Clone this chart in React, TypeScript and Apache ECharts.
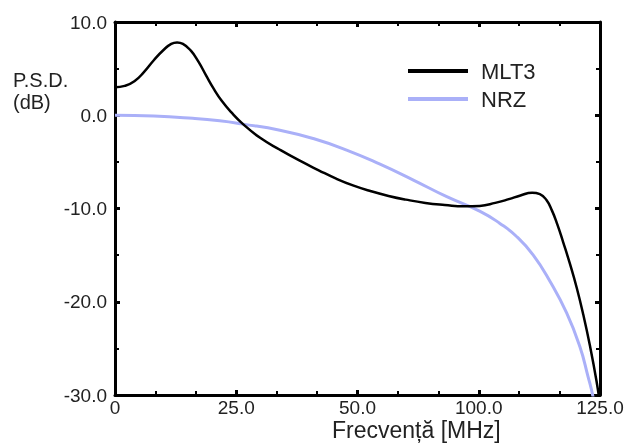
import React, { useEffect, useRef } from "react";
import * as echarts from "echarts";

const xTickLabels = ["0", "25.0", "50.0", "100.0", "125.0"];
const yTickLabels = ["-30.0", "-20.0", "-10.0", "0.0", "10.0"];

const mlt3X = [0, 2.5, 5, 7.5, 10, 12.5, 14.5, 16, 17.5, 19.5, 21.5, 23.5, 25.5, 27.5, 30, 33, 37.5, 42.5, 47.5, 52.5, 57, 61.5, 66, 70.5, 75, 80, 85, 90, 94, 98, 101.5, 104.5, 107.5, 109.5, 111.2, 112.6, 114, 115.5, 117.3, 119, 120.7, 122.4, 124.1, 125];
const mlt3Y = [3.0, 3.15, 3.65, 4.65, 5.9, 7.0, 7.65, 7.8, 7.65, 6.95, 5.75, 4.25, 2.8, 1.55, 0.3, -0.95, -2.45, -3.7, -4.85, -5.9, -6.8, -7.55, -8.15, -8.65, -9.05, -9.4, -9.62, -9.77, -9.72, -9.4, -9.0, -8.6, -8.3, -8.45, -9.1, -10.2, -11.7, -13.6, -16.0, -18.5, -21.4, -24.7, -28.5, -31];

const nrzX = [0, 10, 20, 27, 33.0, 42.5, 51.1, 59.7, 68.3, 76.9, 85.5, 94.1, 99.2, 103.5, 107.8, 112.1, 116.4, 119.8, 121.9, 123.2, 123.8];
const nrzY = [0, -0.08, -0.33, -0.6, -0.95, -1.6, -2.5, -3.73, -5.25, -6.95, -8.73, -10.3, -11.6, -13.0, -15.0, -17.8, -21.2, -24.8, -28.0, -30.2, -32];

const seriesNames = ["MLT3", "NRZ"];

export default function App() {
  const ref = useRef<HTMLDivElement>(null);
  useEffect(() => {
    if (!ref.current) return;
    const chart = echarts.init(ref.current, null, { renderer: "svg" });
    const axisLine = { show: true, onZero: false, lineStyle: { color: "#000", width: 3 } };
    const font = "Liberation Sans, Arial, sans-serif";
    const xBase = {
      type: "value",
      min: 0,
      max: 125,
      interval: 31.25,
      axisLine,
      axisTick: { show: true, inside: true, length: 5, lineStyle: { color: "#000", width: 3 } },
      minorTick: { show: true, splitNumber: 3, length: 4, lineStyle: { color: "#000", width: 2 } },
      splitLine: { show: false },
    };
    const yBase = {
      type: "value",
      min: -30,
      max: 10,
      interval: 10,
      axisLine,
      axisTick: { show: true, inside: true, length: 5, lineStyle: { color: "#000", width: 3 } },
      minorTick: { show: true, splitNumber: 2, length: 4, lineStyle: { color: "#000", width: 2 } },
      splitLine: { show: false },
    };
    chart.setOption({
      animation: false,
      grid: { left: 115, right: 32, top: 22, bottom: 53, containLabel: false },
      legend: {
        orient: "vertical",
        left: 408,
        top: 60,
        padding: 0,
        itemWidth: 60,
        itemHeight: 4,
        itemGap: 6,
        data: [
          { name: seriesNames[0], icon: "rect" },
          { name: seriesNames[1], icon: "rect" },
        ],
        textStyle: { fontSize: 22, color: "#222", fontFamily: font, padding: [0, 0, 0, 8] },
      },
      xAxis: [
        {
          ...xBase,
          position: "bottom",
          axisLabel: {
            show: true,
            margin: 3,
            fontSize: 19,
            color: "#222",
            fontFamily: font,
            formatter: (v: number) => xTickLabels[Math.round(v / 31.25)] ?? "",
          },
        },
        { ...xBase, position: "top", axisLabel: { show: false } },
      ],
      yAxis: [
        {
          ...yBase,
          position: "left",
          axisLabel: {
            show: true,
            margin: 8,
            fontSize: 19,
            color: "#222",
            fontFamily: font,
            formatter: (v: number) => yTickLabels[Math.round((v + 30) / 10)] ?? "",
          },
        },
        { ...yBase, position: "right", axisLabel: { show: false } },
      ],
      series: [
        {
          name: seriesNames[0],
          type: "line",
          data: mlt3X.map((x, i) => [x, mlt3Y[i]]),
          smooth: 0.5,
          symbol: "none",
          clip: true,
          z: 3,
          lineStyle: { color: "#000", width: 2.5 },
          itemStyle: { color: "#000" },
        },
        {
          name: seriesNames[1],
          type: "line",
          data: nrzX.map((x, i) => [x, nrzY[i]]),
          smooth: 0.5,
          symbol: "none",
          clip: true,
          z: 2,
          lineStyle: { color: "#aab0f8", width: 3 },
          itemStyle: { color: "#aab0f8" },
        },
      ],
      graphic: [
        {
          type: "text",
          left: 13,
          top: 69,
          style: { text: "P.S.D.\n(dB)", fontSize: 20, lineHeight: 22, fill: "#222", fontFamily: font },
        },
        {
          type: "text",
          left: 332,
          top: 418,
          style: { text: "Frecvență [MHz]", fontSize: 23, fill: "#222", fontFamily: font },
        },
      ],
    });
    return () => chart.dispose();
  }, []);
  return <div ref={ref} style={{ position: "fixed", left: 0, top: 0, width: 632, height: 448 }} />;
}
